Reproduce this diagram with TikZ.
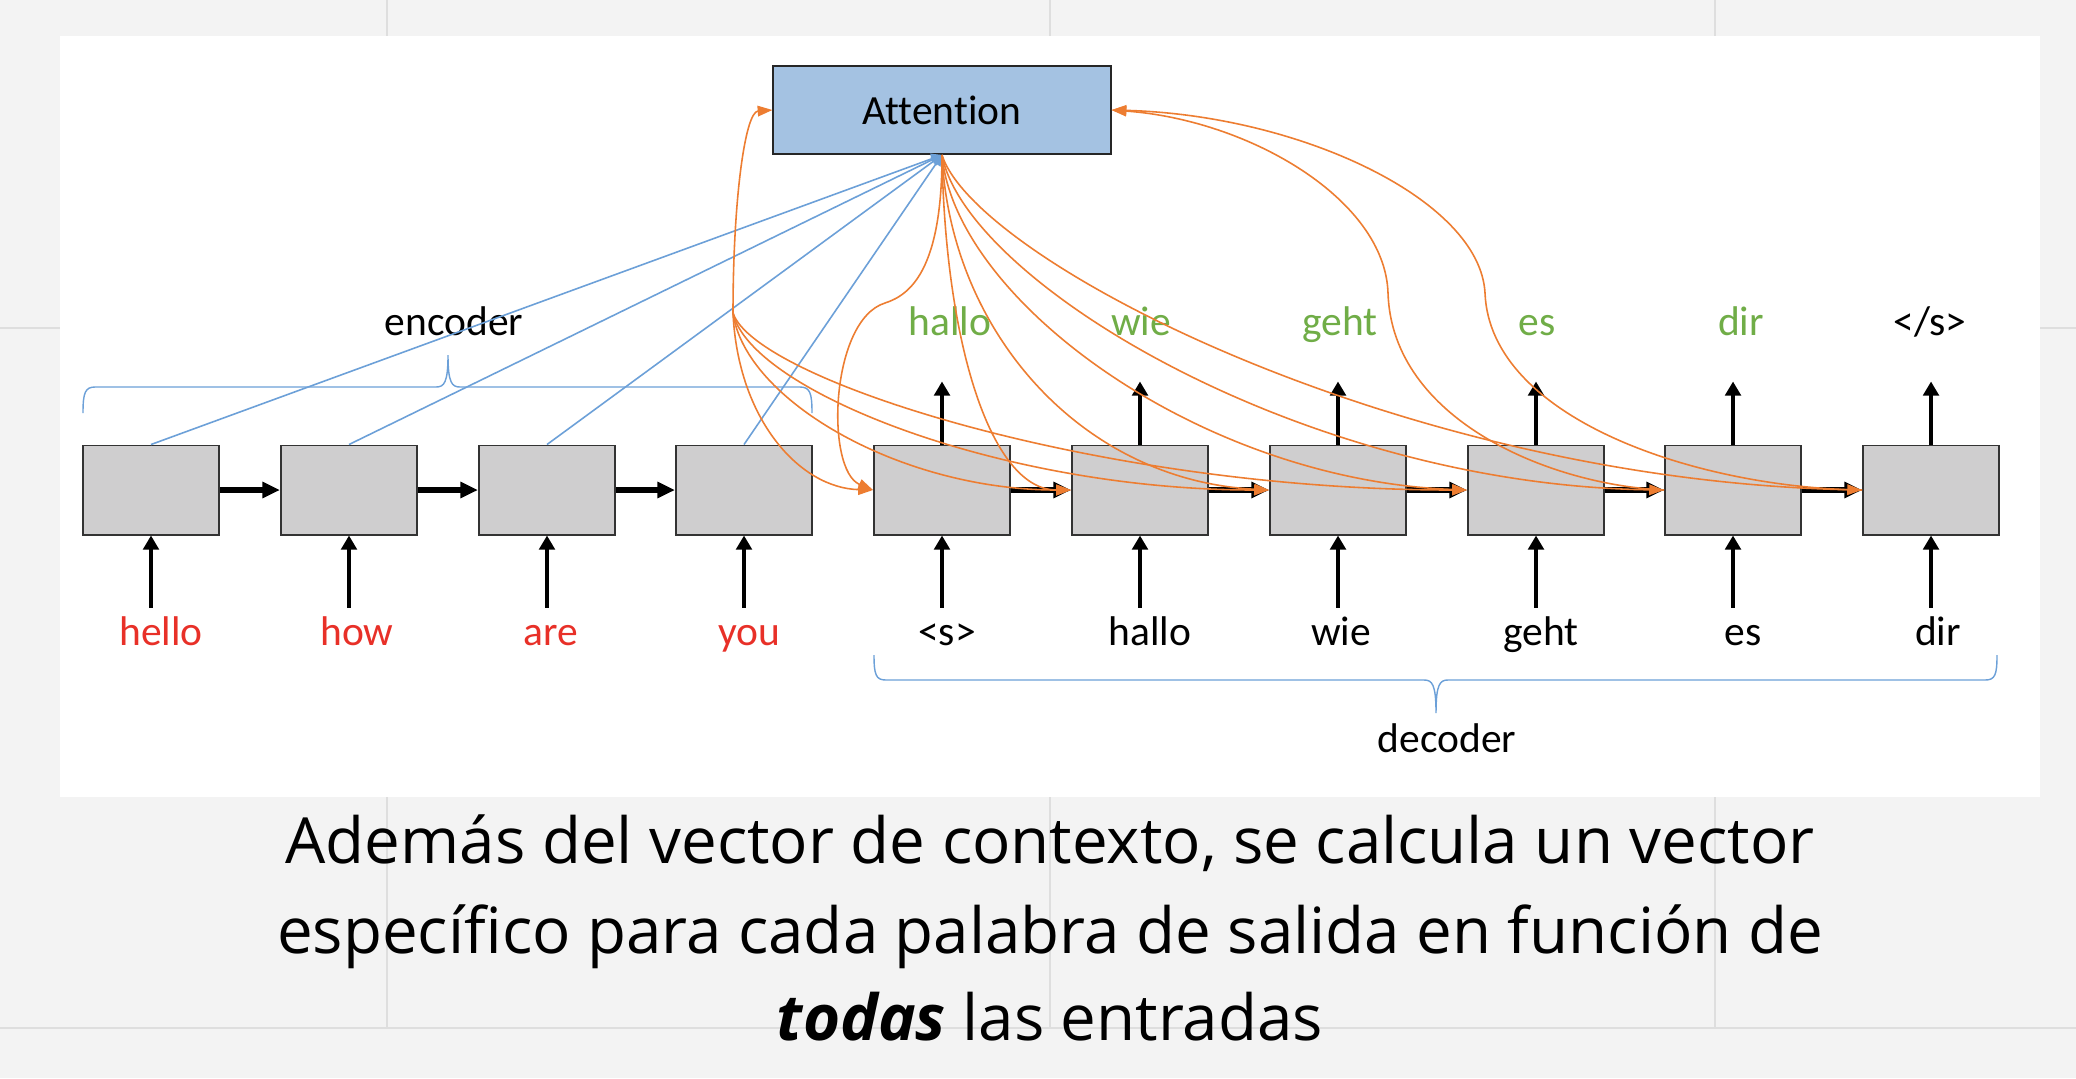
\documentclass[tikz,border=0pt]{standalone}
\usepackage{fontspec}
\setmainfont{Carlito}[Ligatures=NoCommon]
\newfontfamily\capfont{Open Sans}
\usetikzlibrary{arrows.meta}
\definecolor{og}{RGB}{237,125,49}
\definecolor{bl}{RGB}{108,160,216}
\definecolor{gr}{RGB}{112,173,71}
\definecolor{rd}{RGB}{232,48,40}
\definecolor{gy}{RGB}{207,206,207}
\definecolor{attfill}{RGB}{164,194,226}
\definecolor{bg}{RGB}{243,243,243}
\definecolor{gline}{RGB}{222,222,222}

\begin{document}
\begin{tikzpicture}[x=0.01cm,y=-0.01cm,font=\fontsize{11.8}{14}\selectfont,
	cell/.style={draw=black!80,line width=0.55pt,fill=gy,minimum width=1.36cm,minimum height=0.89cm,inner sep=0pt},
	word/.style={anchor=base,text height=0.7em,text depth=0.2em},
	rnn/.style={line width=1.6pt,-{Triangle[length=5pt,width=4.4pt]}},
	upin/.style={line width=1.3pt,-{Triangle[length=4pt,width=4.4pt]}},
	upout/.style={upin,shorten >=0.27cm},
	look/.style={bl,line width=0.45pt,-{Triangle[length=3pt,width=3pt]}},
	ctx/.style={og,line width=0.45pt,-{Triangle[length=4.2pt,width=3pt]}},
	brace/.style={bl,line width=0.4pt},
	slidetext/.style={anchor=base,font=\capfont\fontsize{18.1}{20}\selectfont}]
	\useasboundingbox		(0,0) rectangle (2076,1078);

	% slide background
	\fill[bg]			(0,0) rectangle (2076,1078);
	\draw[gline, line width=0.3pt]	(387,0) -- (387,1028);
	\draw[gline, line width=0.3pt]	(1050,0) -- (1050,1028);
	\draw[gline, line width=0.3pt]	(1715,0) -- (1715,1028);
	\draw[gline, line width=0.3pt]	(0,328) -- (2076,328);
	\draw[gline, line width=0.6pt]	(0,1028) -- (2076,1028);
	\fill[white]			(60,36) rectangle (2040,797);

	% cells
	\node[cell] (e1) at (151,490) {};
	\node[cell] (e2) at (349,490) {};
	\node[cell] (e3) at (547,490) {};
	\node[cell] (e4) at (744,490) {};
	\node[cell] (d1) at (942,490) {};
	\node[cell] (d2) at (1140,490) {};
	\node[cell] (d3) at (1338,490) {};
	\node[cell] (d4) at (1536,490) {};
	\node[cell] (d5) at (1733,490) {};
	\node[cell] (d6) at (1931,490) {};

	\node[draw=black!85, line width=0.55pt, fill=attfill, minimum width=3.37cm, minimum height=0.88cm] (attn) at (942,110) {Attention};

	% words
	\node[word, rd] (w1) at (161,645) {hello};
	\node[word, rd] (w2) at (357,645) {how};
	\node[word, rd] (w3) at (551,645) {are};
	\node[word, rd] (w4) at (749,645) {you};
	\node[word] (x1) at (947,645) {<s>};
	\node[word] (x2) at (1150,645) {hallo};
	\node[word] (x3) at (1341,645) {wie};
	\node[word] (x4) at (1541,645) {geht};
	\node[word] (x5) at (1743,645) {es};
	\node[word] (x6) at (1938,645) {dir};
	\node[word, gr] (y1) at (950,335) {hallo};
	\node[word, gr] (y2) at (1141,335) {wie};
	\node[word, gr] (y3) at (1340,335) {geht};
	\node[word, gr] (y4) at (1537,335) {es};
	\node[word, gr] (y5) at (1741,335) {dir};
	\node[word] (y6) at (1930,335) {</s>};
	\node[word] (enc) at (454,335) {encoder};
	\node[word] (dec) at (1447,752) {decoder};

	% braces
	\draw[brace]	(83,413) .. controls (83,393) and (85,387) .. (95,387) -- (436,387)
				.. controls (444,387) and (448,383) .. (448,355)
				.. controls (448,383) and (452,387) .. (460,387) -- (800,387)
				.. controls (810,387) and (812,393) .. (812,413);
	\draw[brace]	(874,655) .. controls (874,675) and (876,680) .. (886,680) -- (1424,680)
				.. controls (1432,680) and (1436,684) .. (1436,713)
				.. controls (1436,684) and (1440,680) .. (1448,680) -- (1985,680)
				.. controls (1995,680) and (1997,675) .. (1997,655);

	% recurrence
	\draw[rnn]	(e1) -- (e2);
	\draw[rnn]	(e2) -- (e3);
	\draw[rnn]	(e3) -- (e4);
	\draw[rnn]	(d1) -- (d2);
	\draw[rnn]	(d2) -- (d3);
	\draw[rnn]	(d3) -- (d4);
	\draw[rnn]	(d4) -- (d5);
	\draw[rnn]	(d5) -- (d6);

	% inputs and outputs
	\draw[upin]	(e1.south |- w1.north) -- (e1.south);
	\draw[upin]	(e2.south |- w1.north) -- (e2.south);
	\draw[upin]	(e3.south |- w1.north) -- (e3.south);
	\draw[upin]	(e4.south |- w1.north) -- (e4.south);
	\draw[upin]	(d1.south |- w1.north) -- (d1.south);
	\draw[upin]	(d2.south |- w1.north) -- (d2.south);
	\draw[upin]	(d3.south |- w1.north) -- (d3.south);
	\draw[upin]	(d4.south |- w1.north) -- (d4.south);
	\draw[upin]	(d5.south |- w1.north) -- (d5.south);
	\draw[upin]	(d6.south |- w1.north) -- (d6.south);
	\draw[upout]	(d1.north) -- (d1.north |- y1.south);
	\draw[upout]	(d2.north) -- (d2.north |- y1.south);
	\draw[upout]	(d3.north) -- (d3.north |- y1.south);
	\draw[upout]	(d4.north) -- (d4.north |- y1.south);
	\draw[upout]	(d5.north) -- (d5.north |- y1.south);
	\draw[upout]	(d6.north) -- (d6.north |- y1.south);

	% encoder states to attention
	\draw[look]	(e1.north) -- (attn.south);
	\draw[look]	(e2.north) -- (attn.south);
	\draw[look]	(e3.north) -- (attn.south);
	\draw[look]	(e4.north) -- (attn.south);

	% attention to decoder
	\coordinate (jct) at (733,313);
	\draw[ctx]	(jct) .. controls (733,200) and (745,112) .. (attn.west);
	\draw[ctx]	(jct) .. controls (738,420) and (800,488) .. (d1.west);
	\draw[ctx]	(jct) .. controls (745,400) and (900,490) .. (d2.west);
	\draw[ctx]	(jct) .. controls (750,390) and (1000,490) .. (d3.west);
	\draw[ctx]	(jct) .. controls (755,380) and (1100,490) .. (d4.west);

	\draw[ctx]	(attn.south) .. controls (942,270) and (910,295) .. (885,303)
				.. controls (830,320) and (825,470) .. (d1.west);
	\draw[ctx]	(attn.south) .. controls (945,340) and (990,490) .. (d2.west);
	\draw[ctx]	(attn.south) .. controls (950,330) and (1080,480) .. (d3.west);
	\draw[ctx]	(attn.south) .. controls (955,300) and (1200,480) .. (d4.west);
	\draw[ctx]	(attn.south) .. controls (965,280) and (1300,485) .. (d5.west);
	\draw[ctx]	(attn.south) .. controls (975,260) and (1400,480) .. (d6.west);

	\draw[ctx]	(d5.west) .. controls (1550,485) and (1392,420) .. (1388,293)
				.. controls (1385,200) and (1250,120) .. (attn.east);
	\draw[ctx]	(d6.west) .. controls (1700,488) and (1490,420) .. (1485,293)
				.. controls (1480,200) and (1300,115) .. (attn.east);

	% caption
	\node[slidetext] (c1) at (1050,863) {Además del vector de contexto, se calcula un vector};
	\node[slidetext] (c2) at (1050,953) {específico para cada palabra de salida en función de};
	\node[slidetext] (c3) at (1050,1040) {\textbf{\textit{todas}} las entradas};
\end{tikzpicture}
\end{document}
